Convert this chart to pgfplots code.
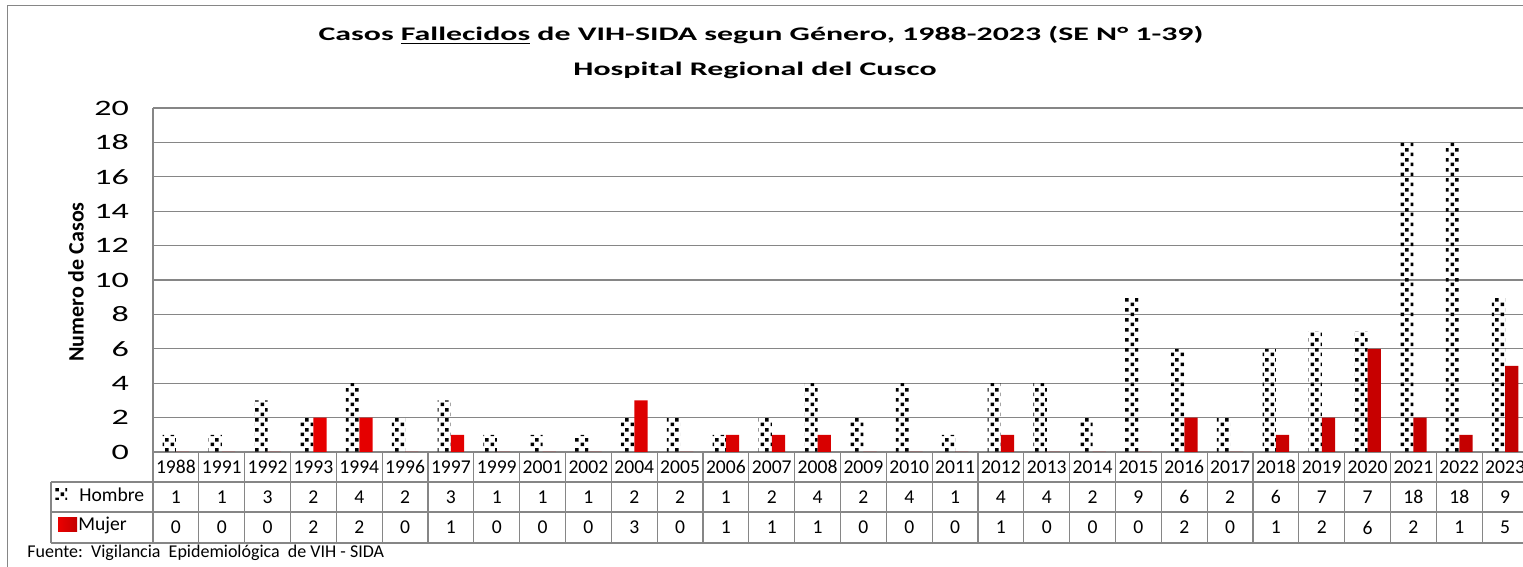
\documentclass[border=0pt]{standalone}
\usepackage{fontspec}
\setmainfont{Carlito}
\usepackage{pgfplots}
\pgfplotsset{compat=1.18}
\usepackage{pgfplotstable}
\usetikzlibrary{patterns}

% black confetti squares, like the Excel fill of the Hombre bars
\pgfdeclarepatternformonly{confetti}{\pgfqpoint{0pt}{0pt}}{\pgfqpoint{5pt}{5pt}}{\pgfqpoint{5pt}{5pt}}{%
  \pgfpathrectangle{\pgfqpoint{0.3pt}{0.5pt}}{\pgfqpoint{1.9pt}{1.9pt}}%
  \pgfpathrectangle{\pgfqpoint{2.8pt}{3.0pt}}{\pgfqpoint{1.9pt}{1.9pt}}%
  \pgfusepath{fill}}

\definecolor{gridgray}{RGB}{134,134,134}
\definecolor{leftred}{RGB}{235,0,0}
\definecolor{midred}{RGB}{255,35,35}
\definecolor{rightred}{RGB}{195,0,0}
\newcommand\tabfont{\fontsize{9.8}{11}\selectfont}
\newcommand\titlefont{\bfseries\fontsize{9.6}{11}\selectfont}

\pgfplotstableread{
x year h m
0 1988 1 0
1 1991 1 0
2 1992 3 0
3 1993 2 2
4 1994 4 2
5 1996 2 0
6 1997 3 1
7 1999 1 0
8 2001 1 0
9 2002 1 0
10 2004 2 3
11 2005 2 0
12 2006 1 1
13 2007 2 1
14 2008 4 1
15 2009 2 0
16 2010 4 0
17 2011 1 0
18 2012 4 1
19 2013 4 0
20 2014 2 0
21 2015 9 0
22 2016 6 2
23 2017 2 0
24 2018 6 1
25 2019 7 2
26 2020 7 6
27 2021 18 2
28 2022 18 1
29 2023 9 5
}\data

\begin{document}
\begin{tikzpicture}[x=0.5pt,y=0.5pt]
\useasboundingbox (0,0) rectangle (1523,567);
\draw[gridgray] (7,-10) rectangle (1560,562);
\coordinate (O) at (153,115);

\node[font=\titlefont] at (761,532)
  {\scalebox{1.66}[1]{Casos \underline{Fallecidos} de VIH-SIDA segun Género, 1988-2023 (SE N° 1-39)}};
\node[font=\titlefont] at (755,497)
  {\scalebox{1.66}[1]{Hospital Regional del Cusco}};
\node[rotate=90, font=\bfseries\fontsize{11}{13}\selectfont] at (76,285) {Numero de Casos};

\begin{axis}[
  at={(O)}, anchor=south west,
  scale only axis, width=687.5pt, height=172pt,
  xmin=-0.5, xmax=29.5, ymin=0, ymax=20,
  ytick={0,2,...,20},
  xtick={0,...,29},
  xticklabels from table={\data}{year},
  ymajorgrids, grid style={gridgray, line width=0.6pt},
  axis x line=bottom, axis y line=left,
  axis line style={gridgray, line width=0.6pt, -},
  major tick length=0pt,
  clip=false,
  bar width=0.29,
  yticklabel={\scalebox{1.55}[1]{\pgfmathprintnumber[assume math mode=true]{\tick}}},
  yticklabel style={font=\fontsize{11}{12}\selectfont, anchor=east, xshift=-8.5pt},
  xticklabel style={font=\tabfont, anchor=center, yshift=-7.5pt},
  ]
\addplot[ybar, bar shift=-0.145, draw=none, pattern=confetti, pattern color=black]
  table[x=x, y=h]{\data};
\addplot[ybar, bar shift=0.145, draw=none, left color=leftred, middle color=midred, right color=rightred]
  table[x=x, y=m]{\data};

% data table grid
\draw[gridgray, line width=0.6pt] (axis cs:-2.726,-1.744) -- (axis cs:29.5,-1.744);
\draw[gridgray, line width=0.6pt] (axis cs:-2.726,-3.488) -- (axis cs:29.5,-3.488);
\draw[gridgray, line width=0.6pt] (axis cs:-2.726,-5.29) -- (axis cs:29.5,-5.29);
\draw[gridgray, line width=0.6pt] (axis cs:-2.726,-1.744) -- (axis cs:-2.726,-5.29);
\pgfplotsinvokeforeach{-0.5,0.5,...,29.5}{
  \draw[gridgray, line width=0.6pt] (axis cs:#1,0) -- (axis cs:#1,-5.29);
}
% table values from the data
\pgfplotsinvokeforeach{0,...,29}{
  \pgfplotstablegetelem{#1}{h}\of\data
  \edef\tmp{\noexpand\node[font=\noexpand\tabfont] at (axis cs:#1,-2.616) {\pgfplotsretval};}\tmp
  \pgfplotstablegetelem{#1}{m}\of\data
  \edef\tmp{\noexpand\node[font=\noexpand\tabfont] at (axis cs:#1,-4.39) {\pgfplotsretval};}\tmp
}
\end{axis}

% legend keys in the table
\fill[pattern=confetti, pattern color=black] (55,67) rectangle (67,78);
\node[anchor=west, font=\tabfont, inner sep=0pt] at (79,72) {Hombre};
\shade[left color=leftred, middle color=midred, right color=rightred] (58,35) rectangle (77,49);
\node[anchor=west, font=\tabfont, inner sep=0pt] at (78,42) {Mujer};

\node[anchor=west, font=\fontsize{9}{10}\selectfont, inner sep=0pt] at (27,14)
  {Fuente:\ \ Vigilancia\ \ Epidemiológica\ \ de VIH - SIDA};
\end{tikzpicture}
\end{document}
